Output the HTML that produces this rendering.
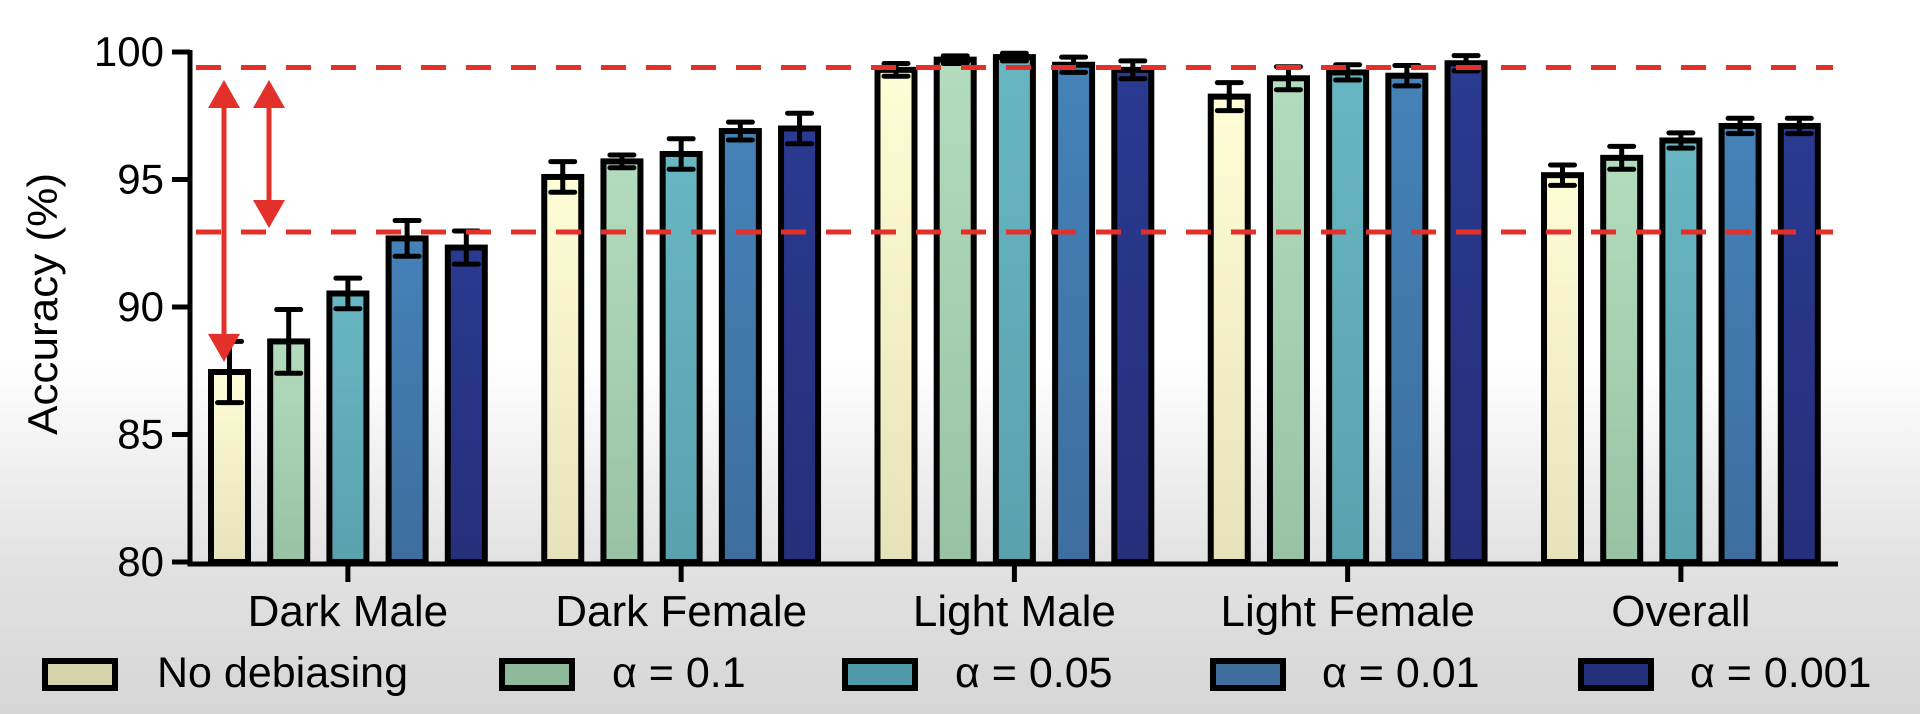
<!DOCTYPE html>
<html><head><meta charset="utf-8"><style>
html,body{margin:0;padding:0;width:1920px;height:714px;overflow:hidden;}
body{background:linear-gradient(to bottom,#ffffff 0px,#ffffff 360px,#e2e2e2 560px,#d6d6d6 714px);font-family:"Liberation Sans",Arial,sans-serif;}
</style></head><body>
<svg id="chart" width="1920" height="714" viewBox="0 0 1920 714" xmlns="http://www.w3.org/2000/svg" style="position:absolute;left:0;top:0">
<defs>
<linearGradient id="g0" x1="0" y1="0" x2="0" y2="1"><stop offset="0" stop-color="#fffdd6"/><stop offset="1" stop-color="#e6e2bc"/></linearGradient>
<linearGradient id="g1" x1="0" y1="0" x2="0" y2="1"><stop offset="0" stop-color="#b2dcbd"/><stop offset="1" stop-color="#98c2a3"/></linearGradient>
<linearGradient id="g2" x1="0" y1="0" x2="0" y2="1"><stop offset="0" stop-color="#68b6c3"/><stop offset="1" stop-color="#5aa1ae"/></linearGradient>
<linearGradient id="g3" x1="0" y1="0" x2="0" y2="1"><stop offset="0" stop-color="#4482b8"/><stop offset="1" stop-color="#3e6e9f"/></linearGradient>
<linearGradient id="g4" x1="0" y1="0" x2="0" y2="1"><stop offset="0" stop-color="#2a3a90"/><stop offset="1" stop-color="#252f7a"/></linearGradient>
</defs>
<g id="bars"></g>
<g id="axes"></g>
<g id="overlay"></g>
<g id="legend"></g>
</svg>
<script>
const categories = ["Dark Male","Dark Female","Light Male","Light Female","Overall"];
const seriesNames = ["No debiasing","α = 0.1","α = 0.05","α = 0.01","α = 0.001"];
const noDebiasing = [87.45, 95.1, 99.3, 98.25, 95.17];
const alpha01 = [88.65, 95.71, 99.7, 98.97, 95.85];
const alpha005 = [90.53, 96.0, 99.8, 99.2, 96.53];
const alpha001 = [92.69, 96.9, 99.5, 99.07, 97.1];
const alpha0001 = [92.33, 97.0, 99.3, 99.56, 97.1];
const errNoDebiasing = [1.2, 0.6, 0.25, 0.55, 0.4];
const errAlpha01 = [1.25, 0.25, 0.15, 0.45, 0.45];
const errAlpha005 = [0.6, 0.6, 0.15, 0.3, 0.3];
const errAlpha001 = [0.7, 0.35, 0.3, 0.4, 0.3];
const errAlpha0001 = [0.65, 0.6, 0.35, 0.3, 0.3];
const yTicks = [80, 85, 90, 95, 100];
const refLines = [99.39, 92.94];
const arrowSpans = [[98.9, 87.85], [98.9, 93.1]];

const series = [noDebiasing, alpha01, alpha005, alpha001, alpha0001];
const errs = [errNoDebiasing, errAlpha01, errAlpha005, errAlpha001, errAlpha0001];
const fills = ["url(#g0)","url(#g1)","url(#g2)","url(#g3)","url(#g4)"];
const swatch = ["#d5d3ab","#8fb99b","#4f98a8","#3f6e9c","#25307c"];
const NS = "http://www.w3.org/2000/svg";
const Y0 = 562, Y1 = 52, VMIN = 80, VMAX = 100;
function y(v){ return Y0 - (v - VMIN) / (VMAX - VMIN) * (Y0 - Y1); }
function xBar(g, i){ return 208 + g * 333.25 + i * 59.2; }
function mk(tag, attrs, parent){ const e = document.createElementNS(NS, tag); for (const k in attrs) e.setAttribute(k, attrs[k]); parent.appendChild(e); return e; }
const bars = document.getElementById('bars');
const axes = document.getElementById('axes');
const overlay = document.getElementById('overlay');
const legend = document.getElementById('legend');
const BW = 43, SW = 6;

categories.forEach((c, g) => {
  series.forEach((s, i) => {
    const v = s[g], e = errs[i][g];
    const x = xBar(g, i), top = y(v);
    const r = mk('rect', {x: x + SW/2, y: top, width: BW - SW, height: Y0 - top, fill: fills[i], stroke: '#000', 'stroke-width': SW}, bars);
    
    
    const cx = x + BW/2;
    const eb = mk('path', {d: `M${cx} ${y(v+e)}V${y(v-e)}M${cx-12} ${y(v+e)}H${cx+12}M${cx-12} ${y(v-e)}H${cx+12}`, stroke: '#000', 'stroke-width': 5, fill: 'none', 'stroke-linecap': 'round'}, bars);
    
    
  });
  const cx = xBar(g, 2) + BW/2;
  const t = mk('line', {x1: cx, x2: cx, y1: Y0, y2: 582, stroke: '#000', 'stroke-width': 5}, axes);
  
  
  const lbl = mk('text', {x: cx, y: 626, 'text-anchor': 'middle', 'font-size': 44, fill: '#000'}, axes);
  lbl.textContent = c;
  
  
});

const ya = mk('path', {d: `M190 ${Y1-2}V${Y0+2}H1838`, stroke: '#000', 'stroke-width': 5, fill: 'none'}, axes);


yTicks.forEach(v => {
  const tk = mk('line', {x1: 172, x2: 190, y1: y(v), y2: y(v), stroke: '#000', 'stroke-width': 5}, axes);
  
  
  const tl = mk('text', {x: 164, y: y(v) + 14, 'text-anchor': 'end', 'font-size': 42, fill: '#000'}, axes);
  tl.textContent = v;
  
  
});
const yt = mk('text', {x: 0, y: 0, 'text-anchor': 'middle', 'font-size': 42, textLength: 262, lengthAdjust: 'spacingAndGlyphs', fill: '#000', transform: 'translate(57,304) rotate(-90)'}, axes);
yt.textContent = 'Accuracy (%)';



refLines.forEach(v => {
  const l = mk('line', {x1: 196, x2: 1833, y1: y(v), y2: y(v), stroke: '#e3302a', 'stroke-width': 5, 'stroke-dasharray': '25 20'}, overlay);
  
  
});
[224, 269].forEach((ax, k) => {
  const [a, b] = arrowSpans[k];
  const t = y(a), bt = y(b);
  const p = mk('path', {d: `M${ax} ${t}L${ax-16} ${t+28}H${ax-2.5}V${bt-28}H${ax-16}L${ax} ${bt}L${ax+16} ${bt-28}H${ax+2.5}V${t+28}H${ax+16}Z`, fill: '#e3302a'}, overlay);
  
  
});

const swX = [42, 499, 842, 1210, 1578];
const txX = [157, 612, 955, 1322, 1690];
seriesNames.forEach((n, i) => {
  const r = mk('rect', {x: swX[i] + 3, y: 661, width: 70, height: 27, fill: swatch[i], stroke: '#000', 'stroke-width': 6}, legend);
  
  
  const t = mk('text', {x: txX[i], y: 687, 'font-size': 43, fill: '#000'}, legend);
  t.textContent = n;
  
  
});
</script>
</body></html>
